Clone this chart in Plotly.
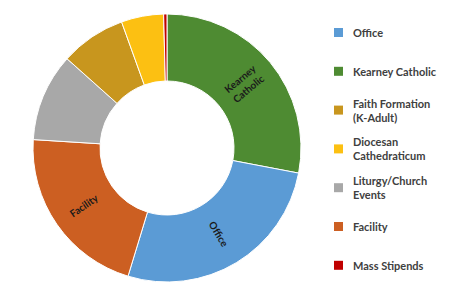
import math
import plotly.graph_objects as go

# Legend order (as shown in the reference legend)
legend_labels = ["Office", "Kearney Catholic", "Faith Formation (K-Adult)",
                 "Diocesan Cathedraticum", "Liturgy/Church Events", "Facility", "Mass Stipends"]
legend_text = ["Office", "Kearney Catholic", "Faith Formation<br>(K-Adult)",
               "Diocesan<br>Cathedraticum", "Liturgy/Church<br>Events", "Facility", "Mass Stipends"]
colors = {
    "Office": "#5B9BD5",
    "Kearney Catholic": "#4E8B32",
    "Faith Formation (K-Adult)": "#C8961E",
    "Diocesan Cathedraticum": "#FCC012",
    "Liturgy/Church Events": "#A8A8A8",
    "Facility": "#CC5F22",
    "Mass Stipends": "#C00000",
}

# Slice order clockwise from 12 o'clock, with estimated shares (%)
slice_labels = ["Kearney Catholic", "Office", "Facility", "Liturgy/Church Events",
                "Faith Formation (K-Adult)", "Diocesan Cathedraticum", "Mass Stipends"]
slice_values = [28.0, 26.7, 21.3, 10.6, 7.9, 5.1, 0.4]
slice_text = ["Kearney<br>Catholic", "Office", "Facility", "", "", "", ""]

W, H = 456, 282
OFF = 8  # page body margin offset

# pie geometry in page pixels
cx, cy, R = 167 - OFF, 148 - OFF, 134
HOLE = 0.5

fig = go.Figure()
fig.add_trace(go.Pie(
    labels=slice_labels,
    values=slice_values,
    textinfo="none",
    marker=dict(colors=[colors[l] for l in slice_labels], line=dict(color="white", width=1)),
    hole=HOLE,
    sort=False,
    direction="clockwise",
    rotation=0,
    showlegend=False,
    domain=dict(x=[(cx - R) / W, (cx + R) / W], y=[1 - (cy + R) / H, 1 - (cy - R) / H]),
))

annotations = []
shapes = []

# Radial slice labels placed at each slice's mid-angle
total = sum(slice_values)
cum = 0.0
rmid = R * (1 + HOLE) / 2
for val, txt in zip(slice_values, slice_text):
    mid = (cum + val / 2) / total * 360.0
    cum += val
    if not txt:
        continue
    th = math.radians(mid)
    px = cx + rmid * math.sin(th)
    py = cy - rmid * math.cos(th)
    ang = mid - 90 if mid <= 180 else mid - 270
    annotations.append(dict(xref="paper", yref="paper", x=px / W, y=1 - py / H,
                            text=txt, showarrow=False, textangle=ang,
                            xanchor="center", yanchor="middle", align="center",
                            font=dict(family="Lato", size=10, color="#1a1a1a", weight="bold")))

# Custom legend (swatches + labels)
for i, (name, txt) in enumerate(zip(legend_labels, legend_text)):
    yc = 32.5 + 38.8 * i - OFF
    shapes.append(dict(type="rect", xref="paper", yref="paper",
                       x0=(334 - OFF) / W, x1=(343 - OFF) / W,
                       y0=1 - (yc + 4.5) / H, y1=1 - (yc - 4.5) / H,
                       fillcolor=colors[name], line=dict(width=0)))
    annotations.append(dict(xref="paper", yref="paper", x=(351 - OFF) / W, y=1 - yc / H,
                            text=txt, showarrow=False, xanchor="left", yanchor="middle",
                            align="left",
                            font=dict(family="Lato", size=11, color="#404040", weight="bold")))

fig.update_layout(
    width=W, height=H,
    margin=dict(l=0, r=0, t=0, b=0),
    paper_bgcolor="white",
    plot_bgcolor="white",
    showlegend=False,
    shapes=shapes,
    annotations=annotations,
)

fig.write_html("out.html")
